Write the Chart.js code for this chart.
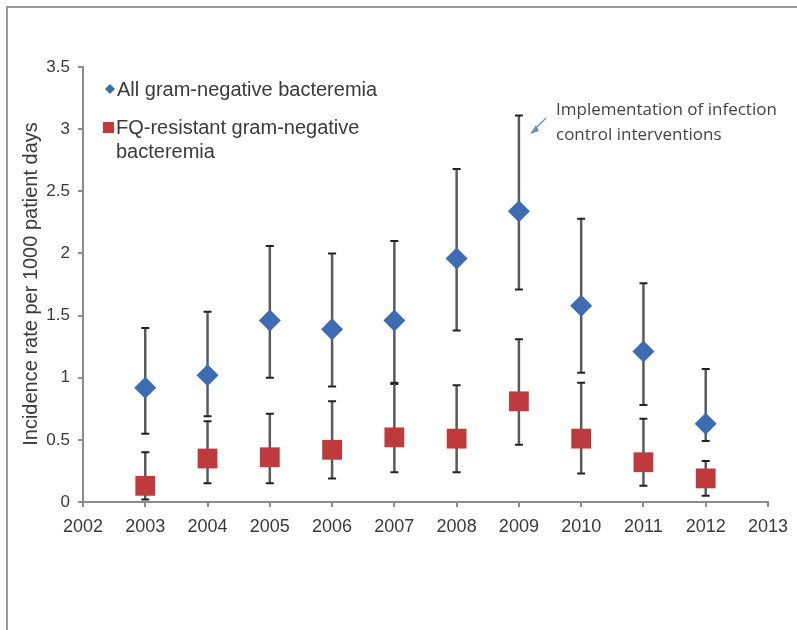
<!DOCTYPE html>
<html>
<head>
<meta charset="utf-8">
<script src="https://cdn.jsdelivr.net/npm/chart.js@4/dist/chart.umd.min.js"></script>
<style>
  body { margin: 0; background: #fff; overflow: hidden; }
  canvas { display: block; }
</style>
</head>
<body>
<canvas id="chart" width="797" height="630"></canvas>
<script>
const years = [2003, 2004, 2005, 2006, 2007, 2008, 2009, 2010, 2011, 2012];

// all gram-negative bacteremia: rate and 95% CI
const allRate = [0.92, 1.02, 1.46, 1.39, 1.46, 1.96, 2.34, 1.58, 1.21, 0.63];
const allLow  = [0.55, 0.69, 1.00, 0.93, 0.95, 1.38, 1.71, 1.04, 0.78, 0.49];
const allHigh = [1.40, 1.53, 2.06, 2.00, 2.10, 2.68, 3.11, 2.28, 1.76, 1.07];

// FQ-resistant gram-negative bacteremia
const fqRate = [0.13, 0.35, 0.36, 0.42, 0.52, 0.51, 0.81, 0.51, 0.32, 0.19];
const fqLow  = [0.02, 0.15, 0.15, 0.19, 0.24, 0.24, 0.46, 0.23, 0.13, 0.05];
const fqHigh = [0.40, 0.65, 0.71, 0.81, 0.96, 0.94, 1.31, 0.96, 0.67, 0.33];

const blue = '#3d6cb3';
const red = '#be3a3c';
const axisGray = '#8c8c8c';
const textColor = '#3a3a3a';
const sans = '"Liberation Sans", Arial, sans-serif';

function toPoints(vals) {
  return years.map((y, i) => ({ x: y, y: vals[i] }));
}

// error bars drawn under the markers
const errorBars = {
  id: 'errorBars',
  beforeDatasetsDraw(chart) {
    const { ctx, scales: { x, y } } = chart;
    const sets = [[allLow, allHigh], [fqLow, fqHigh]];
    ctx.save();
    sets.forEach(([lo, hi]) => {
      years.forEach((yr, i) => {
        const px = x.getPixelForValue(yr);
        const top = y.getPixelForValue(hi[i]);
        const bot = y.getPixelForValue(lo[i]);
        ctx.strokeStyle = '#5a5a5a';
        ctx.lineWidth = 2.5;
        ctx.beginPath();
        ctx.moveTo(px, top);
        ctx.lineTo(px, bot);
        ctx.stroke();
        ctx.strokeStyle = '#222';
        ctx.lineWidth = 2;
        ctx.beginPath();
        ctx.moveTo(px - 4, top); ctx.lineTo(px + 4, top);
        ctx.moveTo(px - 4, bot); ctx.lineTo(px + 4, bot);
        ctx.stroke();
      });
    });
    ctx.restore();
  }
};

// frame, axis title, legend and note
const extras = {
  id: 'extras',
  beforeDraw(chart) {
    const ctx = chart.ctx;
    ctx.save();
    ctx.strokeStyle = '#9a9a9a';
    ctx.lineWidth = 2;
    ctx.beginPath();
    ctx.moveTo(7, 640);
    ctx.lineTo(7, 7);
    ctx.lineTo(800, 7);
    ctx.stroke();
    ctx.restore();
  },
  afterDraw(chart) {
    const ctx = chart.ctx;
    ctx.save();
    ctx.fillStyle = textColor;
    ctx.font = '20px ' + sans;
    ctx.textBaseline = 'middle';

    // y axis title
    ctx.save();
    ctx.translate(31, 284);
    ctx.rotate(-Math.PI / 2);
    ctx.textAlign = 'center';
    ctx.fillText('Incidence rate per 1000 patient days', 0, 0);
    ctx.restore();

    // legend
    ctx.fillStyle = blue;
    ctx.beginPath();
    ctx.moveTo(110, 84); ctx.lineTo(115, 89); ctx.lineTo(110, 94); ctx.lineTo(105, 89);
    ctx.closePath();
    ctx.fill();
    ctx.fillStyle = red;
    ctx.fillRect(103, 122, 11, 11);

    ctx.fillStyle = textColor;
    ctx.font = '20px ' + sans;
    ctx.textAlign = 'left';
    ctx.fillText('All gram-negative bacteremia', 117, 90);
    ctx.fillText('FQ-resistant gram-negative', 116, 128);
    ctx.fillText('bacteremia', 116, 152);

    // annotation
    ctx.font = '17px "Open Sans", sans-serif';
    ctx.fillStyle = '#444';
    ctx.fillText('Implementation of infection', 556, 110);
    ctx.fillText('control interventions', 556, 135);

    ctx.strokeStyle = '#6f8fc4';
    ctx.fillStyle = '#6f8fc4';
    ctx.lineWidth = 1.5;
    ctx.beginPath();
    ctx.moveTo(546, 118);
    ctx.lineTo(534, 130);
    ctx.stroke();
    ctx.beginPath();
    ctx.moveTo(530, 134);
    ctx.lineTo(536, 125);
    ctx.lineTo(539, 131);
    ctx.closePath();
    ctx.fill();
    ctx.restore();
  }
};

new Chart(document.getElementById('chart'), {
  type: 'scatter',
  data: {
    datasets: [
      {
        label: 'All gram-negative bacteremia',
        data: toPoints(allRate),
        pointStyle: 'rectRot',
        pointRadius: 11,
        pointHoverRadius: 11,
        backgroundColor: blue,
        borderColor: blue,
        borderWidth: 0
      },
      {
        label: 'FQ-resistant gram-negative bacteremia',
        data: toPoints(fqRate),
        pointStyle: 'rect',
        pointRadius: 14,
        pointHoverRadius: 14,
        backgroundColor: red,
        borderColor: red,
        borderWidth: 0
      }
    ]
  },
  options: {
    responsive: false,
    animation: false,
    events: [],
    clip: false,
    layout: { padding: { left: 0, top: 67, right: 26, bottom: 88 } },
    plugins: { legend: { display: false }, tooltip: { enabled: false } },
    scales: {
      x: {
        type: 'linear',
        min: 2002,
        max: 2013,
        afterFit(s) { s.height = 40; },
        grid: { drawOnChartArea: false, drawTicks: true, tickLength: 5, color: axisGray, lineWidth: 2 },
        border: { display: true, color: axisGray, width: 2 },
        ticks: {
          stepSize: 1,
          padding: 9,
          color: textColor,
          font: { family: sans, size: 18 },
          callback: v => String(v)
        }
      },
      y: {
        min: 0,
        max: 3.5,
        afterFit(s) { s.width = 83; },
        grid: { drawOnChartArea: false, drawTicks: true, tickLength: 5, color: axisGray, lineWidth: 2 },
        border: { display: true, color: axisGray, width: 2 },
        ticks: {
          stepSize: 0.5,
          padding: 8,
          color: textColor,
          font: { family: sans, size: 17 },
          callback: v => String(v)
        }
      }
    }
  },
  plugins: [errorBars, extras]
});
</script>
</body>
</html>
